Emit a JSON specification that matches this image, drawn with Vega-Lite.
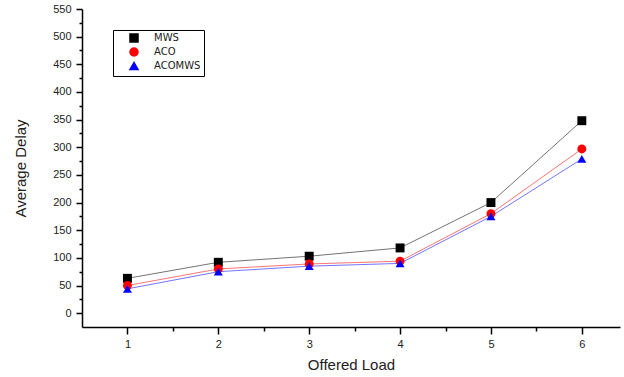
{
  "$schema": "https://vega.github.io/schema/vega-lite/v6.json",
  "width": 538,
  "height": 318,
  "autosize": {"type": "none"},
  "padding": {"left": 82, "top": 9, "right": 4, "bottom": 50},
  "background": "white",
  "config": {"view": {"stroke": null}, "font": "Liberation Sans"},
  "data": {
    "values": [
      {"load": 1, "algo": "MWS", "delay": 63},
      {"load": 2, "algo": "MWS", "delay": 92},
      {"load": 3, "algo": "MWS", "delay": 103},
      {"load": 4, "algo": "MWS", "delay": 118},
      {"load": 5, "algo": "MWS", "delay": 200},
      {"load": 6, "algo": "MWS", "delay": 348},
      {"load": 1, "algo": "ACO", "delay": 50},
      {"load": 2, "algo": "ACO", "delay": 80},
      {"load": 3, "algo": "ACO", "delay": 89},
      {"load": 4, "algo": "ACO", "delay": 94},
      {"load": 5, "algo": "ACO", "delay": 180},
      {"load": 6, "algo": "ACO", "delay": 297},
      {"load": 1, "algo": "ACOMWS", "delay": 44},
      {"load": 2, "algo": "ACOMWS", "delay": 75},
      {"load": 3, "algo": "ACOMWS", "delay": 85},
      {"load": 4, "algo": "ACOMWS", "delay": 90},
      {"load": 5, "algo": "ACOMWS", "delay": 175},
      {"load": 6, "algo": "ACOMWS", "delay": 279}
    ]
  },
  "encoding": {
    "x": {
      "field": "load",
      "type": "quantitative",
      "scale": {"domain": [0.5, 6.42], "nice": false, "zero": false},
      "axis": {
        "title": "Offered Load",
        "values": [1, 1.5, 2, 2.5, 3, 3.5, 4, 4.5, 5, 5.5, 6],
        "labelExpr": "datum.value % 1 === 0 ? format(datum.value, 'd') : ''",
        "labelOverlap": false,
        "tickSize": {"condition": {"test": "datum.value % 1 === 0", "value": 7}, "value": 4},
        "grid": false,
        "domainColor": "#000000",
        "domainWidth": 1.5,
        "tickColor": "#000000",
        "tickWidth": 1.5,
        "labelFontSize": 11,
        "labelPadding": 4,
        "labelColor": "#222222",
        "labelFlush": false,
        "titleFontSize": 15,
        "titleFontWeight": "normal",
        "titleColor": "#222222",
        "titlePadding": 8
      }
    },
    "y": {
      "field": "delay",
      "type": "quantitative",
      "scale": {"domain": [-25, 550], "nice": false, "zero": false},
      "axis": {
        "title": "Average Delay",
        "values": [0, 25, 50, 75, 100, 125, 150, 175, 200, 225, 250, 275, 300, 325, 350, 375, 400, 425, 450, 475, 500, 525, 550],
        "labelExpr": "datum.value % 50 === 0 ? format(datum.value, 'd') : ''",
        "labelOverlap": false,
        "tickSize": {"condition": {"test": "datum.value % 50 === 0", "value": 6}, "value": 3},
        "grid": false,
        "domainColor": "#000000",
        "domainWidth": 1.5,
        "tickColor": "#000000",
        "tickWidth": 1.5,
        "labelFontSize": 11,
        "labelPadding": 5,
        "labelColor": "#222222",
        "labelFlush": false,
        "titleFontSize": 15,
        "titleFontWeight": "normal",
        "titleColor": "#222222",
        "titlePadding": 24
      }
    },
    "color": {
      "field": "algo",
      "type": "nominal",
      "scale": {"domain": ["MWS", "ACO", "ACOMWS"], "range": ["#000000", "#ff0000", "#0000ff"]},
      "legend": {
        "orient": "none",
        "legendX": 31,
        "legendY": 21,
        "title": null,
        "strokeColor": "#000000",
        "fillColor": "white",
        "padding": 3,
        "rowPadding": 0,
        "symbolSize": 64,
        "symbolOffset": 13,
        "labelOffset": 15,
        "labelFont": "DejaVu Sans",
        "labelFontSize": 10,
        "labelColor": "#222222"
      }
    }
  },
  "layer": [
    {
      "mark": {"type": "line", "strokeWidth": 1, "strokeOpacity": 0.55}
    },
    {
      "mark": {"type": "point", "filled": true, "opacity": 1, "size": 80},
      "encoding": {
        "shape": {
          "field": "algo",
          "type": "nominal",
          "scale": {"domain": ["MWS", "ACO", "ACOMWS"], "range": ["square", "circle", "triangle-up"]}
        }
      }
    }
  ]
}
